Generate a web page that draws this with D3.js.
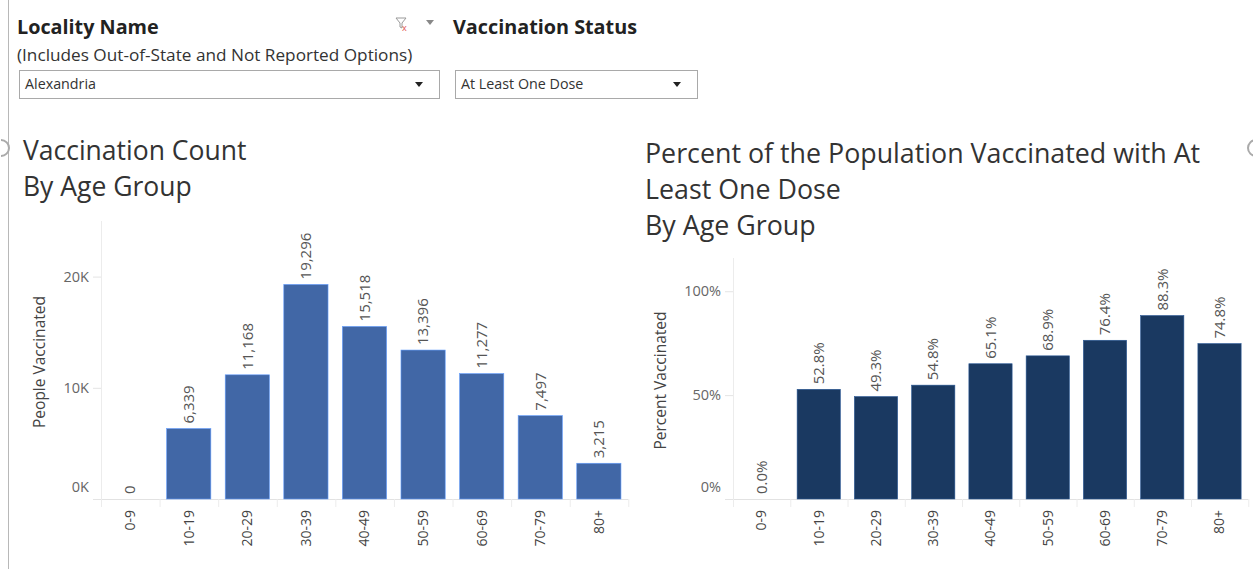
<!DOCTYPE html>
<html>
<head>
<meta charset="utf-8">
<script src="https://cdn.jsdelivr.net/npm/d3@7.9.0/dist/d3.min.js"></script>
<style>
  body { margin: 0; background: #fff; }
  text { font-family: "Open Sans", sans-serif; }
</style>
</head>
<body>
<div id="chart"></div>
<script>
const ageGroups = ['0-9', '10-19', '20-29', '30-39', '40-49', '50-59', '60-69', '70-79', '80+'];
const peopleVaccinated = [0, 6339, 11168, 19296, 15518, 13396, 11277, 7497, 3215];
const percentVaccinated = [0.0, 0.528, 0.493, 0.548, 0.651, 0.689, 0.764, 0.883, 0.748];
const countTicks = [0, 10000, 20000];
const percentTicks = [0, 0.5, 1];

const width = 1253;
const height = 569;

const svg = d3.select('#chart')
  .append('svg')
  .attr('width', width)
  .attr('height', height)
  .attr('viewBox', [0, 0, width, height]);

// ---- header / filters ----
svg.append('line')
  .attr('x1', 8.5).attr('x2', 8.5).attr('y1', 0).attr('y2', height)
  .attr('stroke', '#b8b8b8');

svg.append('text')
  .attr('x', 17).attr('y', 34)
  .attr('font-size', 19.8).attr('font-weight', 700).attr('fill', '#222')
  .text('Locality Name');

svg.append('text')
  .attr('x', 17).attr('y', 61)
  .attr('font-size', 17.2).attr('fill', '#333')
  .text('(Includes Out-of-State and Not Reported Options)');

svg.append('text')
  .attr('x', 453).attr('y', 34)
  .attr('font-size', 19.8).attr('font-weight', 700).attr('fill', '#222')
  .text('Vaccination Status');

// little filter icon
const icon = svg.append('g').attr('transform', 'translate(396,18)');
icon.append('path')
  .attr('d', 'M0,0 H10 L6,5 V10 L4,9 V5 Z')
  .attr('fill', 'none').attr('stroke', '#999').attr('stroke-width', 1);
icon.append('text')
  .attr('x', 6).attr('y', 13).attr('font-size', 9).attr('fill', '#e05050')
  .text('x');
svg.append('path')
  .attr('d', 'M426,20 L434,20 L430,25 Z')
  .attr('fill', '#888');

const dropdowns = [
  { x: 19, w: 420, label: 'Alexandria' },
  { x: 455, w: 242, label: 'At Least One Dose' },
];
dropdowns.forEach((d) => {
  svg.append('rect')
    .attr('x', d.x + 0.5).attr('y', 70.5)
    .attr('width', d.w).attr('height', 28)
    .attr('fill', '#fff').attr('stroke', '#a9a9a9');
  svg.append('text')
    .attr('x', d.x + 6).attr('y', 89)
    .attr('font-size', 14.3).attr('fill', '#333')
    .text(d.label);
  svg.append('path')
    .attr('d', `M${d.x + d.w - 24},82 h8 l-4,5 z`)
    .attr('fill', '#222');
});

// resize handles
svg.append('path')
  .attr('d', 'M1,140 A8,8 0 0 1 1,156')
  .attr('fill', 'none').attr('stroke', '#aaa').attr('stroke-width', 2);
svg.append('path')
  .attr('d', 'M1256,140 A8,8 0 0 0 1256,156')
  .attr('fill', 'none').attr('stroke', '#aaa').attr('stroke-width', 2);

// ---- chart helper ----
function drawBars(opts) {
  const { values, x0, x1, y0, y1, domainMax, ticks, tickFmt, valueFmt,
          color, yTitle, yTitleX, titleLines, titleX, titleY, titleSize } = opts;

  const g = svg.append('g');

  titleLines.forEach((t, i) => {
    g.append('text')
      .attr('x', titleX).attr('y', titleY + i * 36)
      .attr('font-size', titleSize).attr('fill', '#333')
      .text(t);
  });

  const x = d3.scaleBand()
    .domain(ageGroups)
    .range([x0, x1])
    .paddingInner(0.245)
    .paddingOuter(0.12);

  const y = d3.scaleLinear()
    .domain([0, domainMax])
    .range([y0, y1]);

  // axis line + baseline
  g.append('line')
    .attr('x1', x0 + 0.5).attr('x2', x0 + 0.5)
    .attr('y1', y1).attr('y2', y0 + 1)
    .attr('stroke', '#ececec');
  g.append('line')
    .attr('x1', x0 - 8).attr('x2', x1)
    .attr('y1', y0 + 0.5).attr('y2', y0 + 0.5)
    .attr('stroke', '#e2e2e2');

  // y ticks
  const yAxis = g.append('g')
    .attr('transform', `translate(${x0},0)`)
    .call(d3.axisLeft(y).tickValues(ticks).tickFormat(tickFmt).tickSize(8).tickPadding(4));
  yAxis.select('.domain').remove();
  yAxis.selectAll('line').attr('stroke', '#e4e4e4');
  yAxis.selectAll('text')
    .attr('font-family', '"Open Sans", sans-serif')
    .attr('font-size', 14.5).attr('fill', '#666')
    .attr('dy', (d) => (d === 0 ? '-0.55em' : '0.32em'));

  // band separators below baseline
  g.selectAll('.sep')
    .data(d3.range(ageGroups.length + 1))
    .join('line')
    .attr('x1', (i) => x0 + i * x.step() + 0.5)
    .attr('x2', (i) => x0 + i * x.step() + 0.5)
    .attr('y1', y0).attr('y2', y0 + 8)
    .attr('stroke', '#ececec');

  // x labels
  g.selectAll('.xl')
    .data(ageGroups)
    .join('text')
    .attr('transform', (d) => `translate(${x(d) + x.bandwidth() / 2},${y0 + 11}) rotate(-90)`)
    .attr('text-anchor', 'end')
    .attr('dy', '0.35em')
    .attr('font-size', 14).attr('fill', '#444')
    .text((d) => d);

  // bars
  g.selectAll('.bar')
    .data(values)
    .join('rect')
    .attr('x', (d, i) => x(ageGroups[i]))
    .attr('y', (d) => y(d))
    .attr('width', x.bandwidth())
    .attr('height', (d) => y0 - y(d))
    .attr('fill', color)
    .attr('stroke', d3.color(color).brighter(1.2))
    .attr('stroke-width', 0.6);

  // value labels
  g.selectAll('.vl')
    .data(values)
    .join('text')
    .attr('transform', (d, i) => `translate(${x(ageGroups[i]) + x.bandwidth() / 2},${y(d) - 5}) rotate(-90)`)
    .attr('text-anchor', 'start')
    .attr('dy', '0.35em')
    .attr('font-size', 15).attr('fill', '#555')
    .text(valueFmt);

  g.append('text')
    .attr('transform', `translate(${yTitleX},${(y0 + y1) / 2 + 2}) rotate(-90)`)
    .attr('text-anchor', 'middle')
    .attr('dy', '0.35em')
    .attr('font-size', 15.5).attr('fill', '#444')
    .text(yTitle);
}

drawBars({
  values: peopleVaccinated,
  x0: 101, x1: 628, y0: 499, y1: 221, domainMax: 25000,
  ticks: countTicks,
  tickFmt: (d) => `${d / 1000}K`,
  valueFmt: (d) => d3.format(',')(d),
  color: '#4167a6',
  yTitle: 'People Vaccinated', yTitleX: 40,
  titleLines: ['Vaccination Count', 'By Age Group'],
  titleX: 23, titleY: 160, titleSize: 26.5,
});

drawBars({
  values: percentVaccinated,
  x0: 733, x1: 1248, y0: 499, y1: 258, domainMax: 1.16,
  ticks: percentTicks,
  tickFmt: d3.format('.0%'),
  valueFmt: d3.format('.1%'),
  color: '#1a3961',
  yTitle: 'Percent Vaccinated', yTitleX: 661,
  titleLines: ['Percent of the Population Vaccinated with At', 'Least One Dose', 'By Age Group'],
  titleX: 645, titleY: 163, titleSize: 26.8,
});
</script>
</body>
</html>
